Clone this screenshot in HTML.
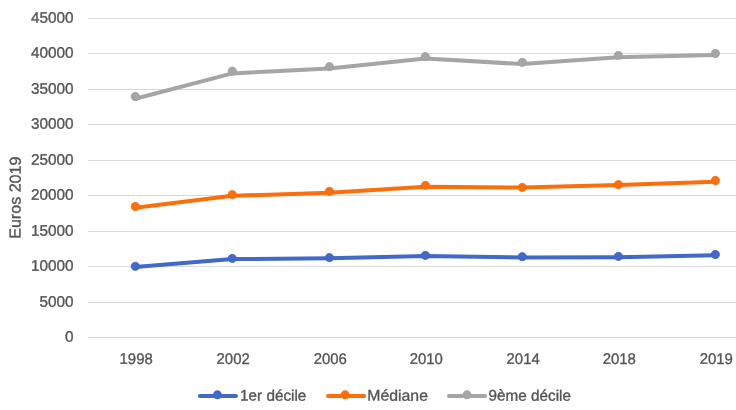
<!DOCTYPE html>
<html><head><meta charset="utf-8"><title>chart</title>
<style>
html,body{margin:0;padding:0;background:#fff;}
body{width:736px;height:410px;overflow:hidden;}
svg{display:block;will-change:transform;}
text{font-family:"Liberation Sans",sans-serif;font-size:15.3px;fill:#555555;stroke:#555555;stroke-width:0.35px;}
</style></head><body>
<svg width="736" height="410" viewBox="0 0 736 410">
<rect width="736" height="410" fill="#ffffff"/>
<rect x="88" y="18" width="648" height="1" fill="#DADADA" shape-rendering="crispEdges"/>
<rect x="88" y="53" width="648" height="1" fill="#DADADA" shape-rendering="crispEdges"/>
<rect x="88" y="89" width="648" height="1" fill="#DADADA" shape-rendering="crispEdges"/>
<rect x="88" y="124" width="648" height="1" fill="#DADADA" shape-rendering="crispEdges"/>
<rect x="88" y="160" width="648" height="1" fill="#DADADA" shape-rendering="crispEdges"/>
<rect x="88" y="195" width="648" height="1" fill="#DADADA" shape-rendering="crispEdges"/>
<rect x="88" y="231" width="648" height="1" fill="#DADADA" shape-rendering="crispEdges"/>
<rect x="88" y="266" width="648" height="1" fill="#DADADA" shape-rendering="crispEdges"/>
<rect x="88" y="302" width="648" height="1" fill="#DADADA" shape-rendering="crispEdges"/>
<rect x="88" y="337" width="648" height="1" fill="#DADADA" shape-rendering="crispEdges"/>
<text transform="translate(73.6,22.80) rotate(0.15) scale(1.0,1)" text-anchor="end">45000</text>
<text transform="translate(73.6,57.80) rotate(0.15) scale(1.0,1)" text-anchor="end">40000</text>
<text transform="translate(73.6,93.80) rotate(0.15) scale(1.0,1)" text-anchor="end">35000</text>
<text transform="translate(73.6,128.80) rotate(0.15) scale(1.0,1)" text-anchor="end">30000</text>
<text transform="translate(73.6,164.80) rotate(0.15) scale(1.0,1)" text-anchor="end">25000</text>
<text transform="translate(73.6,199.80) rotate(0.15) scale(1.0,1)" text-anchor="end">20000</text>
<text transform="translate(73.6,235.80) rotate(0.15) scale(1.0,1)" text-anchor="end">15000</text>
<text transform="translate(73.6,270.80) rotate(0.15) scale(1.0,1)" text-anchor="end">10000</text>
<text transform="translate(73.6,306.80) rotate(0.15) scale(1.0,1)" text-anchor="end">5000</text>
<text transform="translate(73.6,341.80) rotate(0.15) scale(1.0,1)" text-anchor="end">0</text>
<text transform="translate(136.15,363.9) rotate(0.15) scale(0.975,1)" text-anchor="middle">1998</text>
<text transform="translate(233.15,363.9) rotate(0.15) scale(0.975,1)" text-anchor="middle">2002</text>
<text transform="translate(330.25,363.9) rotate(0.15) scale(0.975,1)" text-anchor="middle">2006</text>
<text transform="translate(426.25,363.9) rotate(0.15) scale(0.975,1)" text-anchor="middle">2010</text>
<text transform="translate(523.15,363.9) rotate(0.15) scale(0.975,1)" text-anchor="middle">2014</text>
<text transform="translate(619.25,363.9) rotate(0.15) scale(0.975,1)" text-anchor="middle">2018</text>
<text transform="translate(716.25,363.9) rotate(0.15) scale(0.975,1)" text-anchor="middle">2019</text>
<text transform="translate(20.6,197.7) rotate(-89.85) scale(1.052,1.04)" text-anchor="middle">Euros 2019</text>
<polyline points="135.3,98.70 232.3,73.40 329.4,68.40 425.4,58.40 522.3,64.10 618.4,57.20 715.4,54.90" fill="none" stroke="#A5A5A5" stroke-width="4" stroke-linejoin="round" stroke-linecap="round"/>
<circle cx="135.3" cy="96.5" r="4.15" fill="#A5A5A5" stroke="#9C9C9C" stroke-width="0.7"/>
<circle cx="232.3" cy="71.1" r="4.15" fill="#A5A5A5" stroke="#9C9C9C" stroke-width="0.7"/>
<circle cx="329.4" cy="66.6" r="4.15" fill="#A5A5A5" stroke="#9C9C9C" stroke-width="0.7"/>
<circle cx="425.4" cy="56.6" r="4.15" fill="#A5A5A5" stroke="#9C9C9C" stroke-width="0.7"/>
<circle cx="522.3" cy="62.3" r="4.15" fill="#A5A5A5" stroke="#9C9C9C" stroke-width="0.7"/>
<circle cx="618.4" cy="55.4" r="4.15" fill="#A5A5A5" stroke="#9C9C9C" stroke-width="0.7"/>
<circle cx="715.4" cy="53.5" r="4.15" fill="#A5A5A5" stroke="#9C9C9C" stroke-width="0.7"/>
<polyline points="135.3,207.64 232.3,195.84 329.4,192.67 425.4,186.72 522.3,187.50 618.4,185.00 715.4,181.80" fill="none" stroke="#FB6E0B" stroke-width="4" stroke-linejoin="round" stroke-linecap="round"/>
<circle cx="135.3" cy="206.5" r="4.15" fill="#FB6E0B" stroke="#F56705" stroke-width="0.7"/>
<circle cx="232.3" cy="194.6" r="4.15" fill="#FB6E0B" stroke="#F56705" stroke-width="0.7"/>
<circle cx="329.4" cy="191.4" r="4.15" fill="#FB6E0B" stroke="#F56705" stroke-width="0.7"/>
<circle cx="425.4" cy="185.4" r="4.15" fill="#FB6E0B" stroke="#F56705" stroke-width="0.7"/>
<circle cx="522.3" cy="187.4" r="4.15" fill="#FB6E0B" stroke="#F56705" stroke-width="0.7"/>
<circle cx="618.4" cy="184.6" r="4.15" fill="#FB6E0B" stroke="#F56705" stroke-width="0.7"/>
<circle cx="715.4" cy="180.5" r="4.15" fill="#FB6E0B" stroke="#F56705" stroke-width="0.7"/>
<polyline points="135.3,266.92 232.3,259.09 329.4,258.30 425.4,256.11 522.3,257.40 618.4,257.16 715.4,255.22" fill="none" stroke="#4169C8" stroke-width="4" stroke-linejoin="round" stroke-linecap="round"/>
<circle cx="135.3" cy="266.3" r="4.15" fill="#4169C8" stroke="#3B61C4" stroke-width="0.7"/>
<circle cx="232.3" cy="258.4" r="4.15" fill="#4169C8" stroke="#3B61C4" stroke-width="0.7"/>
<circle cx="329.4" cy="257.6" r="4.15" fill="#4169C8" stroke="#3B61C4" stroke-width="0.7"/>
<circle cx="425.4" cy="255.4" r="4.15" fill="#4169C8" stroke="#3B61C4" stroke-width="0.7"/>
<circle cx="522.3" cy="256.7" r="4.15" fill="#4169C8" stroke="#3B61C4" stroke-width="0.7"/>
<circle cx="618.4" cy="256.4" r="4.15" fill="#4169C8" stroke="#3B61C4" stroke-width="0.7"/>
<circle cx="715.4" cy="254.5" r="4.15" fill="#4169C8" stroke="#3B61C4" stroke-width="0.7"/>
<line x1="199.9" x2="236.0" y1="395.9" y2="395.9" stroke="#4169C8" stroke-width="4" stroke-linecap="round"/>
<circle cx="217.4" cy="394.85" r="4.5" fill="#4169C8"/>
<text transform="translate(240.10,400.6) rotate(0.1) scale(0.999,1)">1er décile</text>
<line x1="328.0" x2="364.1" y1="395.9" y2="395.9" stroke="#FB6E0B" stroke-width="4" stroke-linecap="round"/>
<circle cx="345.1" cy="394.85" r="4.5" fill="#FB6E0B"/>
<text transform="translate(367.20,400.6) rotate(0.1) scale(1.036,1)">Médiane</text>
<line x1="449.0" x2="485.1" y1="395.9" y2="395.9" stroke="#A5A5A5" stroke-width="4" stroke-linecap="round"/>
<circle cx="467.0" cy="394.85" r="4.5" fill="#A5A5A5"/>
<text transform="translate(488.55,400.6) rotate(0.1) scale(0.999,1)">9ème décile</text>
</svg></body></html>
